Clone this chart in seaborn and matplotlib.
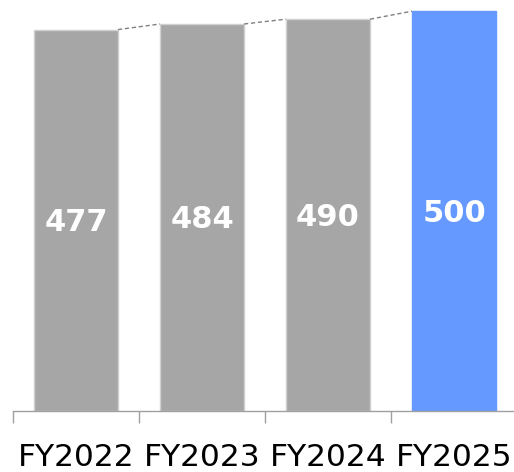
import matplotlib
matplotlib.use("Agg")
import matplotlib.pyplot as plt
import seaborn as sns
import pandas as pd

categories = ["FY2022", "FY2023", "FY2024", "FY2025"]
values = [477, 484, 490, 500]
colors = ["#A6A6A6", "#A6A6A6", "#A6A6A6", "#6699FF"]

sns.set_style("white")
plt.rcParams['font.family'] = ['DejaVu Sans']

df = pd.DataFrame({"cat": categories, "val": values})
fig = plt.figure(figsize=(5.14, 4.72), dpi=100)
ax = fig.add_axes([13/514, 61/472, 501/514, 411/472])

width = 0.667
sns.barplot(data=df, x="cat", y="val", hue="cat", palette=colors, width=width,
            legend=False, ax=ax, linewidth=1, edgecolor="#D0D0D0", saturation=1)
ax.patches[3].set_edgecolor(colors[3])

for i, v in enumerate(values):
    ax.text(i, v / 2 - 3, str(v), ha="center", va="center", color="white",
            fontsize=22, fontweight="bold")

for i in range(len(values) - 1):
    ax.plot([i + width / 2, i + 1 - width / 2], [values[i], values[i + 1]],
            linestyle=(0, (3, 2)), color="#808080", linewidth=1)

ax.set_xlim(-0.5, 3.476)
ax.set_ylim(0, 514)
ax.set_yticks([])
ax.set_xlabel("")
ax.set_ylabel("")
for s in ["top", "right", "left"]:
    ax.spines[s].set_visible(False)
ax.spines["bottom"].set_color("#A0A0A0")
ax.spines["bottom"].set_linewidth(1)

ax.set_xticks(range(len(categories)))
ax.set_xticklabels(categories, fontsize=22.5, color="#000000")
ax.tick_params(axis="x", which="major", length=0, pad=23, bottom=True)
ax.set_xticks([-0.5, 0.5, 1.5, 2.5], minor=True)
ax.tick_params(axis="x", which="minor", length=8.5, width=1, color="#A0A0A0",
               direction="out", bottom=True)

fig.savefig("out.png", dpi=100)
